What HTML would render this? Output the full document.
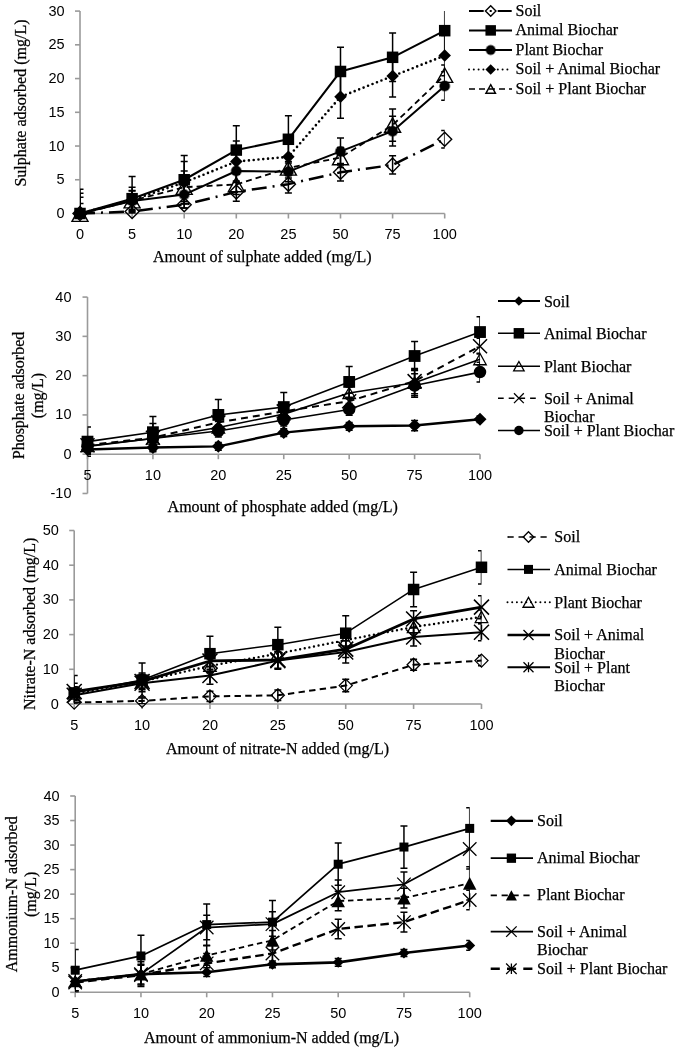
<!DOCTYPE html>
<html><head><meta charset="utf-8"><title>Adsorption charts</title>
<style>html,body{margin:0;padding:0;background:#fff;}body{width:685px;height:1052px;overflow:hidden;}svg{display:block;filter:grayscale(1);}</style>
</head><body>
<svg width="685" height="1052" viewBox="0 0 685 1052">
<rect width="685" height="1052" fill="#fff"/>
<clipPath id="c1"><rect x="80" y="11.09" width="364.7" height="202.41"/></clipPath>
<g stroke="#9a9a9a" stroke-width="1.6" fill="none"><path d="M80 11.09V213.5"/><path d="M75 213.5H80"/><path d="M75 179.76H80"/><path d="M75 146.03H80"/><path d="M75 112.3H80"/><path d="M75 78.56H80"/><path d="M75 44.82H80"/><path d="M75 11.09H80"/><path d="M80 213.5H444.7"/><path d="M80 213.5V218.5"/><path d="M132.1 213.5V218.5"/><path d="M184.2 213.5V218.5"/><path d="M236.3 213.5V218.5"/><path d="M288.4 213.5V218.5"/><path d="M340.5 213.5V218.5"/><path d="M392.6 213.5V218.5"/><path d="M444.7 213.5V218.5"/></g>
<text x="64.6" y="218" font-family='"Liberation Sans", sans-serif' font-size="14.5" text-anchor="end" >0</text>
<text x="64.6" y="184.26" font-family='"Liberation Sans", sans-serif' font-size="14.5" text-anchor="end" >5</text>
<text x="64.6" y="150.53" font-family='"Liberation Sans", sans-serif' font-size="14.5" text-anchor="end" >10</text>
<text x="64.6" y="116.8" font-family='"Liberation Sans", sans-serif' font-size="14.5" text-anchor="end" >15</text>
<text x="64.6" y="83.06" font-family='"Liberation Sans", sans-serif' font-size="14.5" text-anchor="end" >20</text>
<text x="64.6" y="49.32" font-family='"Liberation Sans", sans-serif' font-size="14.5" text-anchor="end" >25</text>
<text x="64.6" y="15.59" font-family='"Liberation Sans", sans-serif' font-size="14.5" text-anchor="end" >30</text>
<text x="80" y="238.9" font-family='"Liberation Sans", sans-serif' font-size="14.5" text-anchor="middle" >0</text>
<text x="132.1" y="238.9" font-family='"Liberation Sans", sans-serif' font-size="14.5" text-anchor="middle" >5</text>
<text x="184.2" y="238.9" font-family='"Liberation Sans", sans-serif' font-size="14.5" text-anchor="middle" >10</text>
<text x="236.3" y="238.9" font-family='"Liberation Sans", sans-serif' font-size="14.5" text-anchor="middle" >20</text>
<text x="288.4" y="238.9" font-family='"Liberation Sans", sans-serif' font-size="14.5" text-anchor="middle" >25</text>
<text x="340.5" y="238.9" font-family='"Liberation Sans", sans-serif' font-size="14.5" text-anchor="middle" >50</text>
<text x="392.6" y="238.9" font-family='"Liberation Sans", sans-serif' font-size="14.5" text-anchor="middle" >75</text>
<text x="444.7" y="238.9" font-family='"Liberation Sans", sans-serif' font-size="14.5" text-anchor="middle" >100</text>
<text x="262.3" y="262.3" font-family='"Liberation Serif", serif' font-size="16" text-anchor="middle"  stroke="#000" stroke-width="0.25">Amount of sulphate added (mg/L)</text>
<text transform="translate(25.8 103) rotate(-90)" font-family='"Liberation Serif", serif' font-size="16" text-anchor="middle" stroke="#000" stroke-width="0.25">Sulphate adsorbed (mg/L)</text>
<path d="M80 213.5L132.1 211.48L184.2 204.73L236.3 191.91L288.4 184.15L340.5 172.34L392.6 164.92L444.7 139.28" fill="none" stroke="#000" stroke-width="2.5" stroke-linecap="butt" stroke-linejoin="round" stroke-dasharray="15 6 2 6"/>
<path d="M80 213.5L132.1 198.66L184.2 179.76L236.3 150.08L288.4 139.28L340.5 71.48L392.6 57.31L444.7 30.66" fill="none" stroke="#000" stroke-width="2.1" stroke-linecap="butt" stroke-linejoin="round"/>
<path d="M80 213.5L132.1 201.02L184.2 194.61L236.3 170.99L288.4 171.67L340.5 151.43L392.6 131.19L444.7 85.98" fill="none" stroke="#000" stroke-width="2.0" stroke-linecap="butt" stroke-linejoin="round"/>
<path d="M80 213.5L132.1 200.01L184.2 182.46L236.3 161.55L288.4 156.83L340.5 96.78L392.6 76.06L444.7 55.62" fill="none" stroke="#000" stroke-width="2.6" stroke-linecap="round" stroke-linejoin="round" stroke-dasharray="0 4.8"/>
<path d="M80 214.17L132.1 200.68L184.2 187.19L236.3 184.49L288.4 167.96L340.5 157.5L392.6 125.11L444.7 75.19" fill="none" stroke="#000" stroke-width="1.8" stroke-linecap="butt" stroke-linejoin="round" stroke-dasharray="6 4"/>
<g clip-path="url(#c1)" stroke="#000" stroke-width="1.5" fill="none"><path d="M80 210.13V216.87M76.5 210.13H83.5M76.5 216.87H83.5"/><path d="M132.1 209.45V213.5M128.6 209.45H135.6M128.6 213.5H135.6"/><path d="M184.2 201.36V208.1M180.7 201.36H187.7M180.7 208.1H187.7"/><path d="M236.3 182.46V201.36M232.8 182.46H239.8M232.8 201.36H239.8"/><path d="M288.4 175.38V192.92M284.9 175.38H291.9M284.9 192.92H291.9"/><path d="M340.5 163.57V181.11M337 163.57H344M337 181.11H344"/><path d="M392.6 155.81V174.03M389.1 155.81H396.1M389.1 174.03H396.1"/><path d="M444.7 130.51V148.05M441.2 130.51H448.2M441.2 148.05H448.2"/></g>
<path d="M80 206.5L87 213.5L80 220.5L73 213.5Z" fill="none" stroke="#000" stroke-width="1.4"/>
<path d="M132.1 204.48L139.1 211.48L132.1 218.48L125.1 211.48Z" fill="none" stroke="#000" stroke-width="1.4"/>
<path d="M184.2 197.73L191.2 204.73L184.2 211.73L177.2 204.73Z" fill="none" stroke="#000" stroke-width="1.4"/>
<path d="M236.3 184.91L243.3 191.91L236.3 198.91L229.3 191.91Z" fill="none" stroke="#000" stroke-width="1.4"/>
<path d="M288.4 177.15L295.4 184.15L288.4 191.15L281.4 184.15Z" fill="none" stroke="#000" stroke-width="1.4"/>
<path d="M340.5 165.34L347.5 172.34L340.5 179.34L333.5 172.34Z" fill="none" stroke="#000" stroke-width="1.4"/>
<path d="M392.6 157.92L399.6 164.92L392.6 171.92L385.6 164.92Z" fill="none" stroke="#000" stroke-width="1.4"/>
<path d="M444.7 132.28L451.7 139.28L444.7 146.28L437.7 139.28Z" fill="none" stroke="#000" stroke-width="1.4"/>
<g clip-path="url(#c1)" stroke="#000" stroke-width="1.5" fill="none"><path d="M80 189.21V237.79M76.5 189.21H83.5M76.5 237.79H83.5"/><path d="M132.1 176.39V220.92M128.6 176.39H135.6M128.6 220.92H135.6"/><path d="M184.2 155.48V204.05M180.7 155.48H187.7M180.7 204.05H187.7"/><path d="M236.3 125.79V174.37M232.8 125.79H239.8M232.8 174.37H239.8"/><path d="M288.4 115.67V162.9M284.9 115.67H291.9M284.9 162.9H291.9"/><path d="M340.5 47.19V95.76M337 47.19H344M337 95.76H344"/><path d="M392.6 33.02V81.6M389.1 33.02H396.1M389.1 81.6H396.1"/><path d="M444.7 6.37V54.95M441.2 6.37H448.2M441.2 54.95H448.2"/></g>
<rect x="74.25" y="207.75" width="11.5" height="11.5" fill="#000"/>
<rect x="126.35" y="192.91" width="11.5" height="11.5" fill="#000"/>
<rect x="178.45" y="174.01" width="11.5" height="11.5" fill="#000"/>
<rect x="230.55" y="144.33" width="11.5" height="11.5" fill="#000"/>
<rect x="282.65" y="133.53" width="11.5" height="11.5" fill="#000"/>
<rect x="334.75" y="65.73" width="11.5" height="11.5" fill="#000"/>
<rect x="386.85" y="51.56" width="11.5" height="11.5" fill="#000"/>
<rect x="438.95" y="24.91" width="11.5" height="11.5" fill="#000"/>
<g clip-path="url(#c1)" stroke="#000" stroke-width="1.5" fill="none"><path d="M80 197.31V229.69M76.5 197.31H83.5M76.5 229.69H83.5"/><path d="M132.1 190.9V211.14M128.6 190.9H135.6M128.6 211.14H135.6"/><path d="M184.2 181.11V208.1M180.7 181.11H187.7M180.7 208.1H187.7"/><path d="M236.3 160.87V181.11M232.8 160.87H239.8M232.8 181.11H239.8"/><path d="M288.4 161.55V181.79M284.9 161.55H291.9M284.9 181.79H291.9"/><path d="M340.5 137.93V164.92M337 137.93H344M337 164.92H344"/><path d="M392.6 116.34V146.03M389.1 116.34H396.1M389.1 146.03H396.1"/><path d="M444.7 71.81V100.15M441.2 71.81H448.2M441.2 100.15H448.2"/></g>
<circle cx="80" cy="213.5" r="5.8" fill="#000" opacity="0.45"/><circle cx="80" cy="213.5" r="4.9" fill="#000"/>
<circle cx="132.1" cy="201.02" r="5.8" fill="#000" opacity="0.45"/><circle cx="132.1" cy="201.02" r="4.9" fill="#000"/>
<circle cx="184.2" cy="194.61" r="5.8" fill="#000" opacity="0.45"/><circle cx="184.2" cy="194.61" r="4.9" fill="#000"/>
<circle cx="236.3" cy="170.99" r="5.8" fill="#000" opacity="0.45"/><circle cx="236.3" cy="170.99" r="4.9" fill="#000"/>
<circle cx="288.4" cy="171.67" r="5.8" fill="#000" opacity="0.45"/><circle cx="288.4" cy="171.67" r="4.9" fill="#000"/>
<circle cx="340.5" cy="151.43" r="5.8" fill="#000" opacity="0.45"/><circle cx="340.5" cy="151.43" r="4.9" fill="#000"/>
<circle cx="392.6" cy="131.19" r="5.8" fill="#000" opacity="0.45"/><circle cx="392.6" cy="131.19" r="4.9" fill="#000"/>
<circle cx="444.7" cy="85.98" r="5.8" fill="#000" opacity="0.45"/><circle cx="444.7" cy="85.98" r="4.9" fill="#000"/>
<g clip-path="url(#c1)" stroke="#000" stroke-width="1.5" fill="none"><path d="M80 193.26V233.74M76.5 193.26H83.5M76.5 233.74H83.5"/><path d="M132.1 187.19V212.83M128.6 187.19H135.6M128.6 212.83H135.6"/><path d="M184.2 161.55V203.38M180.7 161.55H187.7M180.7 203.38H187.7"/><path d="M236.3 140.97V182.13M232.8 140.97H239.8M232.8 182.13H239.8"/><path d="M288.4 139.96V173.69M284.9 139.96H291.9M284.9 173.69H291.9"/><path d="M340.5 75.19V118.37M337 75.19H344M337 118.37H344"/><path d="M392.6 55.15V96.98M389.1 55.15H396.1M389.1 96.98H396.1"/><path d="M444.7 35.38V75.86M441.2 35.38H448.2M441.2 75.86H448.2"/></g>
<path d="M80 207.25L86.25 213.5L80 219.75L73.75 213.5Z" fill="#000"/>
<path d="M132.1 193.76L138.35 200.01L132.1 206.26L125.85 200.01Z" fill="#000"/>
<path d="M184.2 176.21L190.45 182.46L184.2 188.71L177.95 182.46Z" fill="#000"/>
<path d="M236.3 155.3L242.55 161.55L236.3 167.8L230.05 161.55Z" fill="#000"/>
<path d="M288.4 150.58L294.65 156.83L288.4 163.08L282.15 156.83Z" fill="#000"/>
<path d="M340.5 90.53L346.75 96.78L340.5 103.03L334.25 96.78Z" fill="#000"/>
<path d="M392.6 69.81L398.85 76.06L392.6 82.31L386.35 76.06Z" fill="#000"/>
<path d="M444.7 49.37L450.95 55.62L444.7 61.87L438.45 55.62Z" fill="#000"/>
<g clip-path="url(#c1)" stroke="#000" stroke-width="1.5" fill="none"><path d="M80 203.38V224.97M76.5 203.38H83.5M76.5 224.97H83.5"/><path d="M132.1 190.56V210.8M128.6 190.56H135.6M128.6 210.8H135.6"/><path d="M184.2 170.99V203.38M180.7 170.99H187.7M180.7 203.38H187.7"/><path d="M236.3 174.37V194.61M232.8 174.37H239.8M232.8 194.61H239.8"/><path d="M288.4 157.84V178.08M284.9 157.84H291.9M284.9 178.08H291.9"/><path d="M340.5 147.38V167.62M337 147.38H344M337 167.62H344"/><path d="M392.6 108.92V141.31M389.1 108.92H396.1M389.1 141.31H396.1"/><path d="M444.7 65.07V85.31M441.2 65.07H448.2M441.2 85.31H448.2"/></g>
<path d="M80 206.97L88 221.37L72 221.37Z" fill="none" stroke="#000" stroke-width="1.4" stroke-linejoin="miter"/>
<path d="M132.1 193.48L140.1 207.88L124.1 207.88Z" fill="none" stroke="#000" stroke-width="1.4" stroke-linejoin="miter"/>
<path d="M184.2 179.99L192.2 194.39L176.2 194.39Z" fill="none" stroke="#000" stroke-width="1.4" stroke-linejoin="miter"/>
<path d="M236.3 177.29L244.3 191.69L228.3 191.69Z" fill="none" stroke="#000" stroke-width="1.4" stroke-linejoin="miter"/>
<path d="M288.4 160.76L296.4 175.16L280.4 175.16Z" fill="none" stroke="#000" stroke-width="1.4" stroke-linejoin="miter"/>
<path d="M340.5 150.3L348.5 164.7L332.5 164.7Z" fill="none" stroke="#000" stroke-width="1.4" stroke-linejoin="miter"/>
<path d="M392.6 117.91L400.6 132.31L384.6 132.31Z" fill="none" stroke="#000" stroke-width="1.4" stroke-linejoin="miter"/>
<path d="M444.7 67.99L452.7 82.39L436.7 82.39Z" fill="none" stroke="#000" stroke-width="1.4" stroke-linejoin="miter"/>
<path d="M469 10.9H512" stroke="#000" stroke-width="2.0" stroke-linecap="butt" stroke-dasharray="14.7 6 2 6 14"/>
<path d="M490.7 5.65L495.95 10.9L490.7 16.15L485.45 10.9Z" fill="none" stroke="#000" stroke-width="1.4"/>
<text x="515.5" y="15.8" font-family='"Liberation Serif", serif' font-size="16" text-anchor="start"  stroke="#000" stroke-width="0.25">Soil</text>
<path d="M469 30.4H512" stroke="#000" stroke-width="2.0" stroke-linecap="butt"/>
<rect x="485.45" y="25.15" width="10.5" height="10.5" fill="#000"/>
<text x="515.5" y="35.3" font-family='"Liberation Serif", serif' font-size="16" text-anchor="start"  stroke="#000" stroke-width="0.25">Animal Biochar</text>
<path d="M469 50H512" stroke="#000" stroke-width="2.0" stroke-linecap="butt"/>
<circle cx="490.7" cy="50" r="5.4" fill="#000" opacity="0.45"/><circle cx="490.7" cy="50" r="4.5" fill="#000"/>
<text x="515.5" y="54.9" font-family='"Liberation Serif", serif' font-size="16" text-anchor="start"  stroke="#000" stroke-width="0.25">Plant Biochar</text>
<path d="M469 69.5H512" stroke="#000" stroke-width="2.0" stroke-linecap="round" stroke-dasharray="0 4.8"/>
<path d="M490.7 64.25L495.95 69.5L490.7 74.75L485.45 69.5Z" fill="#000"/>
<text x="515.5" y="74.4" font-family='"Liberation Serif", serif' font-size="16" text-anchor="start"  stroke="#000" stroke-width="0.25">Soil + Animal Biochar</text>
<path d="M469 89H512" stroke="#000" stroke-width="1.6" stroke-linecap="butt" stroke-dasharray="6 4"/>
<path d="M490.7 84.68L495.5 93.32L485.9 93.32Z" fill="none" stroke="#000" stroke-width="1.4" stroke-linejoin="miter"/>
<text x="515.5" y="93.9" font-family='"Liberation Serif", serif' font-size="16" text-anchor="start"  stroke="#000" stroke-width="0.25">Soil + Plant Biochar</text>
<clipPath id="c2"><rect x="87.5" y="297.08" width="392.52" height="196.4"/></clipPath>
<g stroke="#9a9a9a" stroke-width="1.6" fill="none"><path d="M87.5 297.08V493.48"/><path d="M82.5 493.48H87.5"/><path d="M82.5 454.2H87.5"/><path d="M82.5 414.92H87.5"/><path d="M82.5 375.64H87.5"/><path d="M82.5 336.36H87.5"/><path d="M82.5 297.08H87.5"/><path d="M87.5 454.2H480.02"/><path d="M87.5 454.2V459.2"/><path d="M152.92 454.2V459.2"/><path d="M218.34 454.2V459.2"/><path d="M283.76 454.2V459.2"/><path d="M349.18 454.2V459.2"/><path d="M414.6 454.2V459.2"/><path d="M480.02 454.2V459.2"/></g>
<text x="71.5" y="497.98" font-family='"Liberation Sans", sans-serif' font-size="14.5" text-anchor="end" >-10</text>
<text x="71.5" y="458.7" font-family='"Liberation Sans", sans-serif' font-size="14.5" text-anchor="end" >0</text>
<text x="71.5" y="419.42" font-family='"Liberation Sans", sans-serif' font-size="14.5" text-anchor="end" >10</text>
<text x="71.5" y="380.14" font-family='"Liberation Sans", sans-serif' font-size="14.5" text-anchor="end" >20</text>
<text x="71.5" y="340.86" font-family='"Liberation Sans", sans-serif' font-size="14.5" text-anchor="end" >30</text>
<text x="71.5" y="301.58" font-family='"Liberation Sans", sans-serif' font-size="14.5" text-anchor="end" >40</text>
<text x="87.5" y="480.1" font-family='"Liberation Sans", sans-serif' font-size="14.5" text-anchor="middle" >5</text>
<text x="152.92" y="480.1" font-family='"Liberation Sans", sans-serif' font-size="14.5" text-anchor="middle" >10</text>
<text x="218.34" y="480.1" font-family='"Liberation Sans", sans-serif' font-size="14.5" text-anchor="middle" >20</text>
<text x="283.76" y="480.1" font-family='"Liberation Sans", sans-serif' font-size="14.5" text-anchor="middle" >25</text>
<text x="349.18" y="480.1" font-family='"Liberation Sans", sans-serif' font-size="14.5" text-anchor="middle" >50</text>
<text x="414.6" y="480.1" font-family='"Liberation Sans", sans-serif' font-size="14.5" text-anchor="middle" >75</text>
<text x="480.02" y="480.1" font-family='"Liberation Sans", sans-serif' font-size="14.5" text-anchor="middle" >100</text>
<text x="282.7" y="512.2" font-family='"Liberation Serif", serif' font-size="16" text-anchor="middle"  stroke="#000" stroke-width="0.25">Amount of phosphate added (mg/L)</text>
<text transform="translate(23.8 395.5) rotate(-90)" font-family='"Liberation Serif", serif' font-size="16" text-anchor="middle" stroke="#000" stroke-width="0.25">Phosphate adsorbed</text>
<text transform="translate(43.3 395.5) rotate(-90)" font-family='"Liberation Serif", serif' font-size="16" text-anchor="middle" stroke="#000" stroke-width="0.25">(mg/L)</text>
<path d="M87.5 449.49L152.92 447.52L218.34 446.34L283.76 432.6L349.18 426.31L414.6 425.53L480.02 419.24" fill="none" stroke="#000" stroke-width="2.4" stroke-linecap="butt" stroke-linejoin="round"/>
<path d="M87.5 441.63L152.92 432.2L218.34 414.92L283.76 407.06L349.18 381.92L414.6 356L480.02 332.04" fill="none" stroke="#000" stroke-width="1.6" stroke-linecap="butt" stroke-linejoin="round"/>
<path d="M87.5 445.95L152.92 438.49L218.34 427.49L283.76 414.13L349.18 392.92L414.6 382.71L480.02 359.14" fill="none" stroke="#000" stroke-width="1.6" stroke-linecap="butt" stroke-linejoin="round"/>
<path d="M87.5 445.17L152.92 437.7L218.34 422.38L283.76 411.38L349.18 401.17L414.6 381.14L480.02 346.18" fill="none" stroke="#000" stroke-width="2.0" stroke-linecap="butt" stroke-linejoin="round" stroke-dasharray="7 5"/>
<path d="M87.5 446.34L152.92 438.49L218.34 431.02L283.76 420.03L349.18 409.42L414.6 385.46L480.02 372.1" fill="none" stroke="#000" stroke-width="1.6" stroke-linecap="butt" stroke-linejoin="round"/>
<g clip-path="url(#c2)" stroke="#000" stroke-width="1.5" fill="none"><path d="M87.5 445.56V453.41M84 445.56H91M84 453.41H91"/><path d="M152.92 444.38V450.66M149.42 444.38H156.42M149.42 450.66H156.42"/><path d="M218.34 442.42V450.27M214.84 442.42H221.84M214.84 450.27H221.84"/><path d="M283.76 428.67V436.52M280.26 428.67H287.26M280.26 436.52H287.26"/><path d="M349.18 422.38V430.24M345.68 422.38H352.68M345.68 430.24H352.68"/><path d="M414.6 420.42V430.63M411.1 420.42H418.1M411.1 430.63H418.1"/><path d="M480.02 416.1V422.38M476.52 416.1H483.52M476.52 422.38H483.52"/></g>
<path d="M87.5 442.99L94 449.49L87.5 455.99L81 449.49Z" fill="#000"/>
<path d="M152.92 441.02L159.42 447.52L152.92 454.02L146.42 447.52Z" fill="#000"/>
<path d="M218.34 439.84L224.84 446.34L218.34 452.84L211.84 446.34Z" fill="#000"/>
<path d="M283.76 426.1L290.26 432.6L283.76 439.1L277.26 432.6Z" fill="#000"/>
<path d="M349.18 419.81L355.68 426.31L349.18 432.81L342.68 426.31Z" fill="#000"/>
<path d="M414.6 419.03L421.1 425.53L414.6 432.03L408.1 425.53Z" fill="#000"/>
<path d="M480.02 412.74L486.52 419.24L480.02 425.74L473.52 419.24Z" fill="#000"/>
<g clip-path="url(#c2)" stroke="#000" stroke-width="1.5" fill="none"><path d="M87.5 427.1V456.16M84 427.1H91M84 456.16H91"/><path d="M152.92 416.49V447.92M149.42 416.49H156.42M149.42 447.92H156.42"/><path d="M218.34 399.6V430.24M214.84 399.6H221.84M214.84 430.24H221.84"/><path d="M283.76 392.53V421.6M280.26 392.53H287.26M280.26 421.6H287.26"/><path d="M349.18 366.61V397.24M345.68 366.61H352.68M345.68 397.24H352.68"/><path d="M414.6 341.47V370.53M411.1 341.47H418.1M411.1 370.53H418.1"/><path d="M480.02 316.72V347.36M476.52 316.72H483.52M476.52 347.36H483.52"/></g>
<rect x="81.6" y="435.73" width="11.8" height="11.8" fill="#000"/>
<rect x="147.02" y="426.3" width="11.8" height="11.8" fill="#000"/>
<rect x="212.44" y="409.02" width="11.8" height="11.8" fill="#000"/>
<rect x="277.86" y="401.16" width="11.8" height="11.8" fill="#000"/>
<rect x="343.28" y="376.02" width="11.8" height="11.8" fill="#000"/>
<rect x="408.7" y="350.1" width="11.8" height="11.8" fill="#000"/>
<rect x="474.12" y="326.14" width="11.8" height="11.8" fill="#000"/>
<g clip-path="url(#c2)" stroke="#000" stroke-width="1.5" fill="none"><path d="M87.5 440.06V451.84M84 440.06H91M84 451.84H91"/><path d="M152.92 432.6V444.38M149.42 432.6H156.42M149.42 444.38H156.42"/><path d="M218.34 421.6V433.38M214.84 421.6H221.84M214.84 433.38H221.84"/><path d="M283.76 408.24V420.03M280.26 408.24H287.26M280.26 420.03H287.26"/><path d="M349.18 387.03V398.82M345.68 387.03H352.68M345.68 398.82H352.68"/><path d="M414.6 369.75V395.67M411.1 369.75H418.1M411.1 395.67H418.1"/><path d="M480.02 353.25V365.03M476.52 353.25H483.52M476.52 365.03H483.52"/></g>
<path d="M87.5 440.33L93.75 451.58L81.25 451.58Z" fill="none" stroke="#000" stroke-width="1.3" stroke-linejoin="miter"/>
<path d="M152.92 432.86L159.17 444.11L146.67 444.11Z" fill="none" stroke="#000" stroke-width="1.3" stroke-linejoin="miter"/>
<path d="M218.34 421.86L224.59 433.11L212.09 433.11Z" fill="none" stroke="#000" stroke-width="1.3" stroke-linejoin="miter"/>
<path d="M283.76 408.51L290.01 419.76L277.51 419.76Z" fill="none" stroke="#000" stroke-width="1.3" stroke-linejoin="miter"/>
<path d="M349.18 387.3L355.43 398.55L342.93 398.55Z" fill="none" stroke="#000" stroke-width="1.3" stroke-linejoin="miter"/>
<path d="M414.6 377.09L420.85 388.34L408.35 388.34Z" fill="none" stroke="#000" stroke-width="1.3" stroke-linejoin="miter"/>
<path d="M480.02 353.52L486.27 364.77L473.77 364.77Z" fill="none" stroke="#000" stroke-width="1.3" stroke-linejoin="miter"/>
<g clip-path="url(#c2)" stroke="#000" stroke-width="1.5" fill="none"><path d="M87.5 437.31V453.02M84 437.31H91M84 453.02H91"/><path d="M152.92 423.56V451.84M149.42 423.56H156.42M149.42 451.84H156.42"/><path d="M218.34 414.53V430.24M214.84 414.53H221.84M214.84 430.24H221.84"/><path d="M283.76 403.53V419.24M280.26 403.53H287.26M280.26 419.24H287.26"/><path d="M349.18 393.32V409.03M345.68 393.32H352.68M345.68 409.03H352.68"/><path d="M414.6 368.57V393.71M411.1 368.57H418.1M411.1 393.71H418.1"/><path d="M480.02 338.32V354.04M476.52 338.32H483.52M476.52 354.04H483.52"/></g>
<path d="M80.5 438.17L94.5 452.17M94.5 438.17L80.5 452.17" stroke="#000" stroke-width="1.5" fill="none"/>
<path d="M145.92 430.7L159.92 444.7M159.92 430.7L145.92 444.7" stroke="#000" stroke-width="1.5" fill="none"/>
<path d="M211.34 415.38L225.34 429.38M225.34 415.38L211.34 429.38" stroke="#000" stroke-width="1.5" fill="none"/>
<path d="M276.76 404.38L290.76 418.38M290.76 404.38L276.76 418.38" stroke="#000" stroke-width="1.5" fill="none"/>
<path d="M342.18 394.17L356.18 408.17M356.18 394.17L342.18 408.17" stroke="#000" stroke-width="1.5" fill="none"/>
<path d="M407.6 374.14L421.6 388.14M421.6 374.14L407.6 388.14" stroke="#000" stroke-width="1.5" fill="none"/>
<path d="M473.02 339.18L487.02 353.18M487.02 339.18L473.02 353.18" stroke="#000" stroke-width="1.5" fill="none"/>
<g clip-path="url(#c2)" stroke="#000" stroke-width="1.5" fill="none"><path d="M87.5 438.49V454.2M84 438.49H91M84 454.2H91"/><path d="M152.92 432.6V444.38M149.42 432.6H156.42M149.42 444.38H156.42"/><path d="M218.34 425.13V436.92M214.84 425.13H221.84M214.84 436.92H221.84"/><path d="M283.76 414.13V425.92M280.26 414.13H287.26M280.26 425.92H287.26"/><path d="M349.18 403.53V415.31M345.68 403.53H352.68M345.68 415.31H352.68"/><path d="M414.6 373.68V397.24M411.1 373.68H418.1M411.1 397.24H418.1"/><path d="M480.02 362.28V381.92M476.52 362.28H483.52M476.52 381.92H483.52"/></g>
<circle cx="87.5" cy="446.34" r="6.25" fill="#000"/>
<circle cx="152.92" cy="438.49" r="6.25" fill="#000"/>
<circle cx="218.34" cy="431.02" r="6.25" fill="#000"/>
<circle cx="283.76" cy="420.03" r="6.25" fill="#000"/>
<circle cx="349.18" cy="409.42" r="6.25" fill="#000"/>
<circle cx="414.6" cy="385.46" r="6.25" fill="#000"/>
<circle cx="480.02" cy="372.1" r="6.25" fill="#000"/>
<path d="M498 301H540" stroke="#000" stroke-width="2.0" stroke-linecap="butt"/>
<path d="M518.9 296.25L523.65 301L518.9 305.75L514.15 301Z" fill="#000"/>
<text x="543.9" y="306.6" font-family='"Liberation Serif", serif' font-size="16" text-anchor="start"  stroke="#000" stroke-width="0.25">Soil</text>
<path d="M498 333.3H540" stroke="#000" stroke-width="1.6" stroke-linecap="butt"/>
<rect x="513.65" y="328.05" width="10.5" height="10.5" fill="#000"/>
<text x="543.9" y="338.9" font-family='"Liberation Serif", serif' font-size="16" text-anchor="start"  stroke="#000" stroke-width="0.25">Animal Biochar</text>
<path d="M498 366.2H540" stroke="#000" stroke-width="1.6" stroke-linecap="butt"/>
<path d="M518.9 361.47L524.15 370.93L513.65 370.93Z" fill="none" stroke="#000" stroke-width="1.3" stroke-linejoin="miter"/>
<text x="543.9" y="371.8" font-family='"Liberation Serif", serif' font-size="16" text-anchor="start"  stroke="#000" stroke-width="0.25">Plant Biochar</text>
<path d="M498 398.2H540" stroke="#000" stroke-width="1.6" stroke-linecap="butt" stroke-dasharray="5.7 5"/>
<path d="M514 393.3L523.8 403.1M523.8 393.3L514 403.1" stroke="#000" stroke-width="1.3" fill="none"/>
<text x="543.9" y="403.8" font-family='"Liberation Serif", serif' font-size="16" text-anchor="start"  stroke="#000" stroke-width="0.25">Soil + Animal</text>
<text x="543.9" y="422.2" font-family='"Liberation Serif", serif' font-size="16" text-anchor="start"  stroke="#000" stroke-width="0.25">Biochar</text>
<path d="M498 430.5H540" stroke="#000" stroke-width="1.6" stroke-linecap="butt"/>
<circle cx="518.9" cy="430.5" r="4.75" fill="#000"/>
<text x="543.9" y="436.1" font-family='"Liberation Serif", serif' font-size="16" text-anchor="start"  stroke="#000" stroke-width="0.25">Soil + Plant Biochar</text>
<clipPath id="c3"><rect x="74.2" y="530.5" width="407.28" height="173.5"/></clipPath>
<g stroke="#9a9a9a" stroke-width="1.6" fill="none"><path d="M74.2 530.5V704"/><path d="M69.2 704H74.2"/><path d="M69.2 669.3H74.2"/><path d="M69.2 634.6H74.2"/><path d="M69.2 599.9H74.2"/><path d="M69.2 565.2H74.2"/><path d="M69.2 530.5H74.2"/><path d="M74.2 704H481.48"/><path d="M74.2 704V709"/><path d="M142.08 704V709"/><path d="M209.96 704V709"/><path d="M277.84 704V709"/><path d="M345.72 704V709"/><path d="M413.6 704V709"/><path d="M481.48 704V709"/></g>
<text x="58.8" y="708.5" font-family='"Liberation Sans", sans-serif' font-size="14.5" text-anchor="end" >0</text>
<text x="58.8" y="673.8" font-family='"Liberation Sans", sans-serif' font-size="14.5" text-anchor="end" >10</text>
<text x="58.8" y="639.1" font-family='"Liberation Sans", sans-serif' font-size="14.5" text-anchor="end" >20</text>
<text x="58.8" y="604.4" font-family='"Liberation Sans", sans-serif' font-size="14.5" text-anchor="end" >30</text>
<text x="58.8" y="569.7" font-family='"Liberation Sans", sans-serif' font-size="14.5" text-anchor="end" >40</text>
<text x="58.8" y="535" font-family='"Liberation Sans", sans-serif' font-size="14.5" text-anchor="end" >50</text>
<text x="74.2" y="730.3" font-family='"Liberation Sans", sans-serif' font-size="14.5" text-anchor="middle" >5</text>
<text x="142.08" y="730.3" font-family='"Liberation Sans", sans-serif' font-size="14.5" text-anchor="middle" >10</text>
<text x="209.96" y="730.3" font-family='"Liberation Sans", sans-serif' font-size="14.5" text-anchor="middle" >20</text>
<text x="277.84" y="730.3" font-family='"Liberation Sans", sans-serif' font-size="14.5" text-anchor="middle" >25</text>
<text x="345.72" y="730.3" font-family='"Liberation Sans", sans-serif' font-size="14.5" text-anchor="middle" >50</text>
<text x="413.6" y="730.3" font-family='"Liberation Sans", sans-serif' font-size="14.5" text-anchor="middle" >75</text>
<text x="481.48" y="730.3" font-family='"Liberation Sans", sans-serif' font-size="14.5" text-anchor="middle" >100</text>
<text x="277.5" y="754" font-family='"Liberation Serif", serif' font-size="16" text-anchor="middle"  stroke="#000" stroke-width="0.25">Amount of nitrate-N added (mg/L)</text>
<text transform="translate(35 623.8) rotate(-90)" font-family='"Liberation Serif", serif' font-size="16" text-anchor="middle" stroke="#000" stroke-width="0.25">Nitrate-N adsorbed (mg/L)</text>
<path d="M74.2 702.61L142.08 700.88L209.96 696.37L277.84 695.33L345.72 685.61L413.6 664.79L481.48 660.62" fill="none" stroke="#000" stroke-width="2.0" stroke-linecap="butt" stroke-linejoin="round" stroke-dasharray="6.4 4.3"/>
<path d="M74.2 692.9L142.08 680.06L209.96 653.68L277.84 644.66L345.72 633.21L413.6 589.49L481.48 567.28" fill="none" stroke="#000" stroke-width="1.5" stroke-linecap="butt" stroke-linejoin="round"/>
<path d="M74.2 693.59L142.08 681.45L209.96 665.83L277.84 653.68L345.72 640.15L413.6 626.97L481.48 616.9" fill="none" stroke="#000" stroke-width="2.4" stroke-linecap="round" stroke-linejoin="round" stroke-dasharray="0 4.7"/>
<path d="M74.2 691.51L142.08 681.45L209.96 660.97L277.84 659.93L345.72 649.17L413.6 618.99L481.48 607.19" fill="none" stroke="#000" stroke-width="2.8" stroke-linecap="butt" stroke-linejoin="round"/>
<path d="M74.2 695.33L142.08 683.18L209.96 675.55L277.84 660.62L345.72 651.95L413.6 637.03L481.48 632.17" fill="none" stroke="#000" stroke-width="2.0" stroke-linecap="butt" stroke-linejoin="round"/>
<g clip-path="url(#c3)" stroke="#000" stroke-width="1.5" fill="none"><path d="M74.2 699.84V705.39M70.7 699.84H77.7M70.7 705.39H77.7"/><path d="M142.08 698.1V703.65M138.58 698.1H145.58M138.58 703.65H145.58"/><path d="M209.96 691.16V701.57M206.46 691.16H213.46M206.46 701.57H213.46"/><path d="M277.84 690.12V700.53M274.34 690.12H281.34M274.34 700.53H281.34"/><path d="M345.72 679.36V691.86M342.22 679.36H349.22M342.22 691.86H349.22"/><path d="M413.6 659.24V670.34M410.1 659.24H417.1M410.1 670.34H417.1"/><path d="M481.48 655.42V665.83M477.98 655.42H484.98M477.98 665.83H484.98"/></g>
<path d="M74.2 696.11L80.7 702.61L74.2 709.11L67.7 702.61Z" fill="none" stroke="#000" stroke-width="1.3"/>
<path d="M142.08 694.38L148.58 700.88L142.08 707.38L135.58 700.88Z" fill="none" stroke="#000" stroke-width="1.3"/>
<path d="M209.96 689.87L216.46 696.37L209.96 702.87L203.46 696.37Z" fill="none" stroke="#000" stroke-width="1.3"/>
<path d="M277.84 688.83L284.34 695.33L277.84 701.83L271.34 695.33Z" fill="none" stroke="#000" stroke-width="1.3"/>
<path d="M345.72 679.11L352.22 685.61L345.72 692.11L339.22 685.61Z" fill="none" stroke="#000" stroke-width="1.3"/>
<path d="M413.6 658.29L420.1 664.79L413.6 671.29L407.1 664.79Z" fill="none" stroke="#000" stroke-width="1.3"/>
<path d="M481.48 654.12L487.98 660.62L481.48 667.12L474.98 660.62Z" fill="none" stroke="#000" stroke-width="1.3"/>
<g clip-path="url(#c3)" stroke="#000" stroke-width="1.5" fill="none"><path d="M74.2 675.55V710.25M70.7 675.55H77.7M70.7 710.25H77.7"/><path d="M142.08 663.05V697.06M138.58 663.05H145.58M138.58 697.06H145.58"/><path d="M209.96 636.34V671.03M206.46 636.34H213.46M206.46 671.03H213.46"/><path d="M277.84 627.31V662.01M274.34 627.31H281.34M274.34 662.01H281.34"/><path d="M345.72 615.86V650.56M342.22 615.86H349.22M342.22 650.56H349.22"/><path d="M413.6 572.14V606.84M410.1 572.14H417.1M410.1 606.84H417.1"/><path d="M481.48 550.63V583.94M477.98 550.63H484.98M477.98 583.94H484.98"/></g>
<rect x="68.45" y="687.15" width="11.5" height="11.5" fill="#000"/>
<rect x="136.33" y="674.31" width="11.5" height="11.5" fill="#000"/>
<rect x="204.21" y="647.93" width="11.5" height="11.5" fill="#000"/>
<rect x="272.09" y="638.91" width="11.5" height="11.5" fill="#000"/>
<rect x="339.97" y="627.46" width="11.5" height="11.5" fill="#000"/>
<rect x="407.85" y="583.74" width="11.5" height="11.5" fill="#000"/>
<rect x="475.73" y="561.53" width="11.5" height="11.5" fill="#000"/>
<g clip-path="url(#c3)" stroke="#000" stroke-width="1.5" fill="none"><path d="M74.2 686.65V700.53M70.7 686.65H77.7M70.7 700.53H77.7"/><path d="M142.08 674.5V688.38M138.58 674.5H145.58M138.58 688.38H145.58"/><path d="M209.96 658.89V672.77M206.46 658.89H213.46M206.46 672.77H213.46"/><path d="M277.84 646.75V660.62M274.34 646.75H281.34M274.34 660.62H281.34"/><path d="M345.72 633.21V647.09M342.22 633.21H349.22M342.22 647.09H349.22"/><path d="M413.6 620.03V633.91M410.1 620.03H417.1M410.1 633.91H417.1"/><path d="M481.48 609.96V623.84M477.98 609.96H484.98M477.98 623.84H484.98"/></g>
<path d="M74.2 687.97L80.45 699.22L67.95 699.22Z" fill="none" stroke="#000" stroke-width="1.3" stroke-linejoin="miter"/>
<path d="M142.08 675.82L148.33 687.07L135.83 687.07Z" fill="none" stroke="#000" stroke-width="1.3" stroke-linejoin="miter"/>
<path d="M209.96 660.21L216.21 671.46L203.71 671.46Z" fill="none" stroke="#000" stroke-width="1.3" stroke-linejoin="miter"/>
<path d="M277.84 648.06L284.09 659.31L271.59 659.31Z" fill="none" stroke="#000" stroke-width="1.3" stroke-linejoin="miter"/>
<path d="M345.72 634.53L351.97 645.78L339.47 645.78Z" fill="none" stroke="#000" stroke-width="1.3" stroke-linejoin="miter"/>
<path d="M413.6 621.34L419.85 632.59L407.35 632.59Z" fill="none" stroke="#000" stroke-width="1.3" stroke-linejoin="miter"/>
<path d="M481.48 611.28L487.73 622.53L475.23 622.53Z" fill="none" stroke="#000" stroke-width="1.3" stroke-linejoin="miter"/>
<g clip-path="url(#c3)" stroke="#000" stroke-width="1.5" fill="none"><path d="M74.2 683.18V699.84M70.7 683.18H77.7M70.7 699.84H77.7"/><path d="M142.08 673.12V689.77M138.58 673.12H145.58M138.58 689.77H145.58"/><path d="M209.96 652.64V669.3M206.46 652.64H213.46M206.46 669.3H213.46"/><path d="M277.84 651.6V668.26M274.34 651.6H281.34M274.34 668.26H281.34"/><path d="M345.72 640.85V657.5M342.22 640.85H349.22M342.22 657.5H349.22"/><path d="M413.6 610.66V627.31M410.1 610.66H417.1M410.1 627.31H417.1"/><path d="M481.48 595.74V618.64M477.98 595.74H484.98M477.98 618.64H484.98"/></g>
<path d="M66.7 684.01L81.7 699.01M81.7 684.01L66.7 699.01" stroke="#000" stroke-width="1.6" fill="none"/>
<path d="M134.58 673.95L149.58 688.95M149.58 673.95L134.58 688.95" stroke="#000" stroke-width="1.6" fill="none"/>
<path d="M202.46 653.47L217.46 668.47M217.46 653.47L202.46 668.47" stroke="#000" stroke-width="1.6" fill="none"/>
<path d="M270.34 652.43L285.34 667.43M285.34 652.43L270.34 667.43" stroke="#000" stroke-width="1.6" fill="none"/>
<path d="M338.22 641.67L353.22 656.67M353.22 641.67L338.22 656.67" stroke="#000" stroke-width="1.6" fill="none"/>
<path d="M406.1 611.49L421.1 626.49M421.1 611.49L406.1 626.49" stroke="#000" stroke-width="1.6" fill="none"/>
<path d="M473.98 599.69L488.98 614.69M488.98 599.69L473.98 614.69" stroke="#000" stroke-width="1.6" fill="none"/>
<g clip-path="url(#c3)" stroke="#000" stroke-width="1.5" fill="none"><path d="M74.2 686.65V704M70.7 686.65H77.7M70.7 704H77.7"/><path d="M142.08 674.5V691.86M138.58 674.5H145.58M138.58 691.86H145.58"/><path d="M209.96 666.87V684.22M206.46 666.87H213.46M206.46 684.22H213.46"/><path d="M277.84 651.95V669.3M274.34 651.95H281.34M274.34 669.3H281.34"/><path d="M345.72 640.85V663.05M342.22 640.85H349.22M342.22 663.05H349.22"/><path d="M413.6 628.01V646.05M410.1 628.01H417.1M410.1 646.05H417.1"/><path d="M481.48 623.5V640.85M477.98 623.5H484.98M477.98 640.85H484.98"/></g>
<path d="M66.7 687.83L81.7 702.83M81.7 687.83L66.7 702.83M74.2 687.83L74.2 702.83" stroke="#000" stroke-width="1.5" fill="none"/>
<path d="M134.58 675.68L149.58 690.68M149.58 675.68L134.58 690.68M142.08 675.68L142.08 690.68" stroke="#000" stroke-width="1.5" fill="none"/>
<path d="M202.46 668.05L217.46 683.05M217.46 668.05L202.46 683.05M209.96 668.05L209.96 683.05" stroke="#000" stroke-width="1.5" fill="none"/>
<path d="M270.34 653.12L285.34 668.12M285.34 653.12L270.34 668.12M277.84 653.12L277.84 668.12" stroke="#000" stroke-width="1.5" fill="none"/>
<path d="M338.22 644.45L353.22 659.45M353.22 644.45L338.22 659.45M345.72 644.45L345.72 659.45" stroke="#000" stroke-width="1.5" fill="none"/>
<path d="M406.1 629.53L421.1 644.53M421.1 629.53L406.1 644.53M413.6 629.53L413.6 644.53" stroke="#000" stroke-width="1.5" fill="none"/>
<path d="M473.98 624.67L488.98 639.67M488.98 624.67L473.98 639.67M481.48 624.67L481.48 639.67" stroke="#000" stroke-width="1.5" fill="none"/>
<path d="M507.5 537H550" stroke="#000" stroke-width="1.7" stroke-linecap="butt" stroke-dasharray="6.2 4.8"/>
<path d="M528.5 531.75L533.75 537L528.5 542.25L523.25 537Z" fill="none" stroke="#000" stroke-width="1.3"/>
<text x="554.3" y="542.4" font-family='"Liberation Serif", serif' font-size="16" text-anchor="start"  stroke="#000" stroke-width="0.25">Soil</text>
<path d="M507.5 569.4H550" stroke="#000" stroke-width="1.5" stroke-linecap="butt"/>
<rect x="524" y="564.9" width="9" height="9" fill="#000"/>
<text x="554.3" y="574.8" font-family='"Liberation Serif", serif' font-size="16" text-anchor="start"  stroke="#000" stroke-width="0.25">Animal Biochar</text>
<path d="M507.5 602.3H550" stroke="#000" stroke-width="2.0" stroke-linecap="round" stroke-dasharray="0 4.7"/>
<path d="M528.5 597.35L534 607.25L523 607.25Z" fill="none" stroke="#000" stroke-width="1.3" stroke-linejoin="miter"/>
<text x="554.3" y="607.7" font-family='"Liberation Serif", serif' font-size="16" text-anchor="start"  stroke="#000" stroke-width="0.25">Plant Biochar</text>
<path d="M507.5 635H550" stroke="#000" stroke-width="2.6" stroke-linecap="butt"/>
<path d="M523.5 630L533.5 640M533.5 630L523.5 640" stroke="#000" stroke-width="1.25" fill="none"/>
<text x="554.3" y="640.4" font-family='"Liberation Serif", serif' font-size="16" text-anchor="start"  stroke="#000" stroke-width="0.25">Soil + Animal</text>
<text x="554.3" y="658.9" font-family='"Liberation Serif", serif' font-size="16" text-anchor="start"  stroke="#000" stroke-width="0.25">Biochar</text>
<path d="M507.5 667.3H550" stroke="#000" stroke-width="2.0" stroke-linecap="butt"/>
<path d="M523.5 662.3L533.5 672.3M533.5 662.3L523.5 672.3M528.5 662.3L528.5 672.3" stroke="#000" stroke-width="1.25" fill="none"/>
<text x="554.3" y="672.7" font-family='"Liberation Serif", serif' font-size="16" text-anchor="start"  stroke="#000" stroke-width="0.25">Soil + Plant</text>
<text x="554.3" y="691.2" font-family='"Liberation Serif", serif' font-size="16" text-anchor="start"  stroke="#000" stroke-width="0.25">Biochar</text>
<clipPath id="c4"><rect x="75.2" y="796" width="394.5" height="196.3"/></clipPath>
<g stroke="#9a9a9a" stroke-width="1.6" fill="none"><path d="M75.2 796V992.3"/><path d="M70.2 992.3H75.2"/><path d="M70.2 967.76H75.2"/><path d="M70.2 943.22H75.2"/><path d="M70.2 918.69H75.2"/><path d="M70.2 894.15H75.2"/><path d="M70.2 869.61H75.2"/><path d="M70.2 845.07H75.2"/><path d="M70.2 820.54H75.2"/><path d="M70.2 796H75.2"/><path d="M75.2 992.3H469.7"/><path d="M75.2 992.3V997.3"/><path d="M140.95 992.3V997.3"/><path d="M206.7 992.3V997.3"/><path d="M272.45 992.3V997.3"/><path d="M338.2 992.3V997.3"/><path d="M403.95 992.3V997.3"/><path d="M469.7 992.3V997.3"/></g>
<text x="59.7" y="996.8" font-family='"Liberation Sans", sans-serif' font-size="14.5" text-anchor="end" >0</text>
<text x="59.7" y="972.26" font-family='"Liberation Sans", sans-serif' font-size="14.5" text-anchor="end" >5</text>
<text x="59.7" y="947.72" font-family='"Liberation Sans", sans-serif' font-size="14.5" text-anchor="end" >10</text>
<text x="59.7" y="923.19" font-family='"Liberation Sans", sans-serif' font-size="14.5" text-anchor="end" >15</text>
<text x="59.7" y="898.65" font-family='"Liberation Sans", sans-serif' font-size="14.5" text-anchor="end" >20</text>
<text x="59.7" y="874.11" font-family='"Liberation Sans", sans-serif' font-size="14.5" text-anchor="end" >25</text>
<text x="59.7" y="849.57" font-family='"Liberation Sans", sans-serif' font-size="14.5" text-anchor="end" >30</text>
<text x="59.7" y="825.04" font-family='"Liberation Sans", sans-serif' font-size="14.5" text-anchor="end" >35</text>
<text x="59.7" y="800.5" font-family='"Liberation Sans", sans-serif' font-size="14.5" text-anchor="end" >40</text>
<text x="75.2" y="1018.4" font-family='"Liberation Sans", sans-serif' font-size="14.5" text-anchor="middle" >5</text>
<text x="140.95" y="1018.4" font-family='"Liberation Sans", sans-serif' font-size="14.5" text-anchor="middle" >10</text>
<text x="206.7" y="1018.4" font-family='"Liberation Sans", sans-serif' font-size="14.5" text-anchor="middle" >20</text>
<text x="272.45" y="1018.4" font-family='"Liberation Sans", sans-serif' font-size="14.5" text-anchor="middle" >25</text>
<text x="338.2" y="1018.4" font-family='"Liberation Sans", sans-serif' font-size="14.5" text-anchor="middle" >50</text>
<text x="403.95" y="1018.4" font-family='"Liberation Sans", sans-serif' font-size="14.5" text-anchor="middle" >75</text>
<text x="469.7" y="1018.4" font-family='"Liberation Sans", sans-serif' font-size="14.5" text-anchor="middle" >100</text>
<text x="271.6" y="1042.8" font-family='"Liberation Serif", serif' font-size="16" text-anchor="middle"  stroke="#000" stroke-width="0.25">Amount of ammonium-N added (mg/L)</text>
<text transform="translate(16.6 894.3) rotate(-90)" font-family='"Liberation Serif", serif' font-size="16" text-anchor="middle" stroke="#000" stroke-width="0.25">Ammonium-N adsorbed</text>
<text transform="translate(35.8 894.3) rotate(-90)" font-family='"Liberation Serif", serif' font-size="16" text-anchor="middle" stroke="#000" stroke-width="0.25">(mg/L)</text>
<path d="M75.2 981.5L140.95 974.14L206.7 972.18L272.45 964.33L338.2 962.36L403.95 953.04L469.7 945.43" fill="none" stroke="#000" stroke-width="2.6" stroke-linecap="butt" stroke-linejoin="round"/>
<path d="M75.2 970.22L140.95 955.98L206.7 924.58L272.45 922.12L338.2 864.21L403.95 847.04L469.7 828.39" fill="none" stroke="#000" stroke-width="1.75" stroke-linecap="butt" stroke-linejoin="round"/>
<path d="M75.2 981.01L140.95 974.14L206.7 955.49L272.45 940.28L338.2 901.02L403.95 898.08L469.7 883.35" fill="none" stroke="#000" stroke-width="1.8" stroke-linecap="butt" stroke-linejoin="round" stroke-dasharray="5.5 3.8"/>
<path d="M75.2 981.01L140.95 974.14L206.7 927.52L272.45 924.09L338.2 892.19L403.95 884.33L469.7 849" fill="none" stroke="#000" stroke-width="1.75" stroke-linecap="butt" stroke-linejoin="round"/>
<path d="M75.2 982.48L140.95 975.12L206.7 963.35L272.45 953.53L338.2 928.99L403.95 922.12L469.7 900.04" fill="none" stroke="#000" stroke-width="2.4" stroke-linecap="butt" stroke-linejoin="round" stroke-dasharray="8.5 4.5"/>
<g clip-path="url(#c4)" stroke="#000" stroke-width="1.5" fill="none"><path d="M75.2 978.56V984.45M71.7 978.56H78.7M71.7 984.45H78.7"/><path d="M140.95 971.69V976.6M137.45 971.69H144.45M137.45 976.6H144.45"/><path d="M206.7 967.76V976.6M203.2 967.76H210.2M203.2 976.6H210.2"/><path d="M272.45 960.89V967.76M268.95 960.89H275.95M268.95 967.76H275.95"/><path d="M338.2 958.44V966.29M334.7 958.44H341.7M334.7 966.29H341.7"/><path d="M403.95 949.6V956.48M400.45 949.6H407.45M400.45 956.48H407.45"/><path d="M469.7 940.53V950.34M466.2 940.53H473.2M466.2 950.34H473.2"/></g>
<path d="M75.2 976L80.7 981.5L75.2 987L69.7 981.5Z" fill="#000"/>
<path d="M140.95 968.64L146.45 974.14L140.95 979.64L135.45 974.14Z" fill="#000"/>
<path d="M206.7 966.68L212.2 972.18L206.7 977.68L201.2 972.18Z" fill="#000"/>
<path d="M272.45 958.83L277.95 964.33L272.45 969.83L266.95 964.33Z" fill="#000"/>
<path d="M338.2 956.86L343.7 962.36L338.2 967.86L332.7 962.36Z" fill="#000"/>
<path d="M403.95 947.54L409.45 953.04L403.95 958.54L398.45 953.04Z" fill="#000"/>
<path d="M469.7 939.93L475.2 945.43L469.7 950.93L464.2 945.43Z" fill="#000"/>
<g clip-path="url(#c4)" stroke="#000" stroke-width="1.5" fill="none"><path d="M75.2 949.6V990.83M71.7 949.6H78.7M71.7 990.83H78.7"/><path d="M140.95 935.37V976.6M137.45 935.37H144.45M137.45 976.6H144.45"/><path d="M206.7 903.96V945.19M203.2 903.96H210.2M203.2 945.19H210.2"/><path d="M272.45 900.53V943.72M268.95 900.53H275.95M268.95 943.72H275.95"/><path d="M338.2 843.11V885.32M334.7 843.11H341.7M334.7 885.32H341.7"/><path d="M403.95 825.94V868.14M400.45 825.94H407.45M400.45 868.14H407.45"/><path d="M469.7 807.78V849M466.2 807.78H473.2M466.2 849H473.2"/></g>
<rect x="70.7" y="965.72" width="9" height="9" fill="#000"/>
<rect x="136.45" y="951.48" width="9" height="9" fill="#000"/>
<rect x="202.2" y="920.08" width="9" height="9" fill="#000"/>
<rect x="267.95" y="917.62" width="9" height="9" fill="#000"/>
<rect x="333.7" y="859.71" width="9" height="9" fill="#000"/>
<rect x="399.45" y="842.54" width="9" height="9" fill="#000"/>
<rect x="465.2" y="823.89" width="9" height="9" fill="#000"/>
<g clip-path="url(#c4)" stroke="#000" stroke-width="1.5" fill="none"><path d="M75.2 971.2V990.83M71.7 971.2H78.7M71.7 990.83H78.7"/><path d="M140.95 964.33V983.96M137.45 964.33H144.45M137.45 983.96H144.45"/><path d="M206.7 945.68V965.31M203.2 945.68H210.2M203.2 965.31H210.2"/><path d="M272.45 930.47V950.1M268.95 930.47H275.95M268.95 950.1H275.95"/><path d="M338.2 891.21V910.84M334.7 891.21H341.7M334.7 910.84H341.7"/><path d="M403.95 888.26V907.89M400.45 888.26H407.45M400.45 907.89H407.45"/><path d="M469.7 866.67V900.04M466.2 866.67H473.2M466.2 900.04H473.2"/></g>
<path d="M75.2 974.67L81.95 987.36L68.45 987.36Z" fill="#000"/>
<path d="M140.95 967.8L147.7 980.49L134.2 980.49Z" fill="#000"/>
<path d="M206.7 949.15L213.45 961.84L199.95 961.84Z" fill="#000"/>
<path d="M272.45 933.94L279.2 946.63L265.7 946.63Z" fill="#000"/>
<path d="M338.2 894.68L344.95 907.37L331.45 907.37Z" fill="#000"/>
<path d="M403.95 891.73L410.7 904.42L397.2 904.42Z" fill="#000"/>
<path d="M469.7 877.01L476.45 889.7L462.95 889.7Z" fill="#000"/>
<g clip-path="url(#c4)" stroke="#000" stroke-width="1.5" fill="none"><path d="M75.2 968.74V993.28M71.7 968.74H78.7M71.7 993.28H78.7"/><path d="M140.95 961.87V986.41M137.45 961.87H144.45M137.45 986.41H144.45"/><path d="M206.7 915.25V939.79M203.2 915.25H210.2M203.2 939.79H210.2"/><path d="M272.45 911.82V936.35M268.95 911.82H275.95M268.95 936.35H275.95"/><path d="M338.2 879.92V904.46M334.7 879.92H341.7M334.7 904.46H341.7"/><path d="M403.95 872.07V896.6M400.45 872.07H407.45M400.45 896.6H407.45"/><path d="M469.7 828.88V869.12M466.2 828.88H473.2M466.2 869.12H473.2"/></g>
<path d="M68.45 974.26L81.95 987.76M81.95 974.26L68.45 987.76" stroke="#000" stroke-width="1.25" fill="none"/>
<path d="M134.2 967.39L147.7 980.89M147.7 967.39L134.2 980.89" stroke="#000" stroke-width="1.25" fill="none"/>
<path d="M199.95 920.77L213.45 934.27M213.45 920.77L199.95 934.27" stroke="#000" stroke-width="1.25" fill="none"/>
<path d="M265.7 917.34L279.2 930.84M279.2 917.34L265.7 930.84" stroke="#000" stroke-width="1.25" fill="none"/>
<path d="M331.45 885.44L344.95 898.94M344.95 885.44L331.45 898.94" stroke="#000" stroke-width="1.25" fill="none"/>
<path d="M397.2 877.58L410.7 891.08M410.7 877.58L397.2 891.08" stroke="#000" stroke-width="1.25" fill="none"/>
<path d="M462.95 842.25L476.45 855.75M476.45 842.25L462.95 855.75" stroke="#000" stroke-width="1.25" fill="none"/>
<g clip-path="url(#c4)" stroke="#000" stroke-width="1.5" fill="none"><path d="M75.2 972.67V992.3M71.7 972.67H78.7M71.7 992.3H78.7"/><path d="M140.95 965.31V984.94M137.45 965.31H144.45M137.45 984.94H144.45"/><path d="M206.7 953.53V973.16M203.2 953.53H210.2M203.2 973.16H210.2"/><path d="M272.45 943.72V963.35M268.95 943.72H275.95M268.95 963.35H275.95"/><path d="M338.2 919.18V938.81M334.7 919.18H341.7M334.7 938.81H341.7"/><path d="M403.95 912.31V931.94M400.45 912.31H407.45M400.45 931.94H407.45"/><path d="M469.7 890.22V909.85M466.2 890.22H473.2M466.2 909.85H473.2"/></g>
<path d="M68.45 975.73L81.95 989.23M81.95 975.73L68.45 989.23M75.2 975.73L75.2 989.23" stroke="#000" stroke-width="1.3" fill="none"/>
<path d="M134.2 968.37L147.7 981.87M147.7 968.37L134.2 981.87M140.95 968.37L140.95 981.87" stroke="#000" stroke-width="1.3" fill="none"/>
<path d="M199.95 956.6L213.45 970.1M213.45 956.6L199.95 970.1M206.7 956.6L206.7 970.1" stroke="#000" stroke-width="1.3" fill="none"/>
<path d="M265.7 946.78L279.2 960.28M279.2 946.78L265.7 960.28M272.45 946.78L272.45 960.28" stroke="#000" stroke-width="1.3" fill="none"/>
<path d="M331.45 922.24L344.95 935.74M344.95 922.24L331.45 935.74M338.2 922.24L338.2 935.74" stroke="#000" stroke-width="1.3" fill="none"/>
<path d="M397.2 915.37L410.7 928.87M410.7 915.37L397.2 928.87M403.95 915.37L403.95 928.87" stroke="#000" stroke-width="1.3" fill="none"/>
<path d="M462.95 893.29L476.45 906.79M476.45 893.29L462.95 906.79M469.7 893.29L469.7 906.79" stroke="#000" stroke-width="1.3" fill="none"/>
<path d="M490.7 820.8H533" stroke="#000" stroke-width="2.2" stroke-linecap="butt"/>
<path d="M511.4 815.4L516.8 820.8L511.4 826.2L506 820.8Z" fill="#000"/>
<text x="537" y="825.7" font-family='"Liberation Serif", serif' font-size="16" text-anchor="start"  stroke="#000" stroke-width="0.25">Soil</text>
<path d="M490.7 858.2H533" stroke="#000" stroke-width="1.75" stroke-linecap="butt"/>
<rect x="506.75" y="853.55" width="9.3" height="9.3" fill="#000"/>
<text x="537" y="863.1" font-family='"Liberation Serif", serif' font-size="16" text-anchor="start"  stroke="#000" stroke-width="0.25">Animal Biochar</text>
<path d="M490.7 895.4H533" stroke="#000" stroke-width="1.8" stroke-linecap="butt" stroke-dasharray="6.2 4.7"/>
<path d="M511.4 890.23L516.9 900.57L505.9 900.57Z" fill="#000"/>
<text x="537" y="900.3" font-family='"Liberation Serif", serif' font-size="16" text-anchor="start"  stroke="#000" stroke-width="0.25">Plant Biochar</text>
<path d="M490.7 931.6H533" stroke="#000" stroke-width="1.75" stroke-linecap="butt"/>
<path d="M506.15 926.35L516.65 936.85M516.65 926.35L506.15 936.85" stroke="#000" stroke-width="1.25" fill="none"/>
<text x="537" y="936.5" font-family='"Liberation Serif", serif' font-size="16" text-anchor="start"  stroke="#000" stroke-width="0.25">Soil + Animal</text>
<text x="537" y="955" font-family='"Liberation Serif", serif' font-size="16" text-anchor="start"  stroke="#000" stroke-width="0.25">Biochar</text>
<path d="M490.7 968.7H533" stroke="#000" stroke-width="2.5" stroke-linecap="butt" stroke-dasharray="9.1 7.2"/>
<path d="M506.15 963.45L516.65 973.95M516.65 963.45L506.15 973.95M511.4 963.45L511.4 973.95" stroke="#000" stroke-width="1.3" fill="none"/>
<text x="537" y="973.6" font-family='"Liberation Serif", serif' font-size="16" text-anchor="start"  stroke="#000" stroke-width="0.25">Soil + Plant Biochar</text>
</svg>
</body></html>
